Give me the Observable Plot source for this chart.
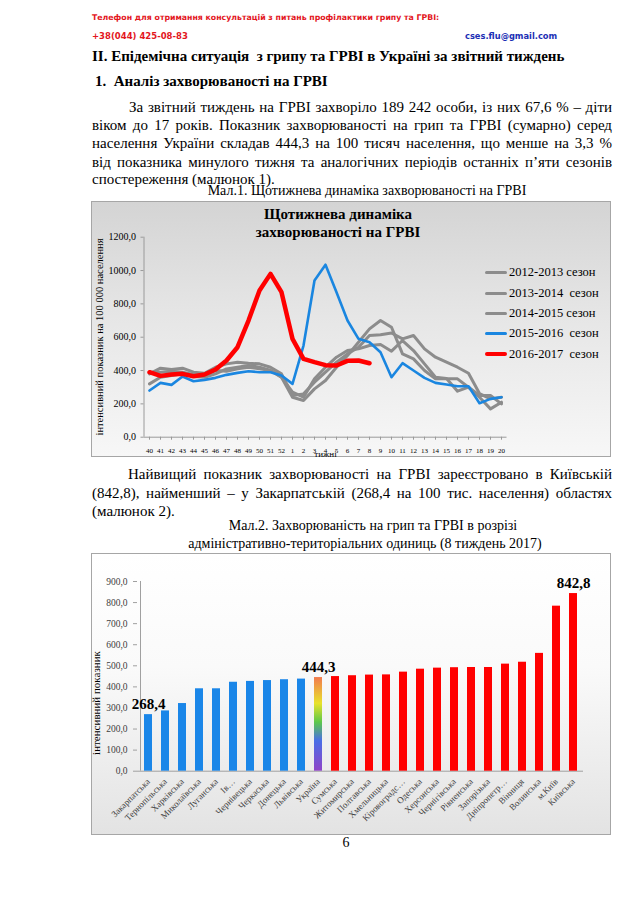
<!DOCTYPE html>
<html lang="uk">
<head>
<meta charset="utf-8">
<script src="https://cdn.jsdelivr.net/npm/d3@7"></script>
<script src="https://cdn.jsdelivr.net/npm/@observablehq/plot@0.6"></script>
<style>
html,body{margin:0;padding:0;background:#fff;}
#page{position:relative;width:638px;height:903px;overflow:hidden;font-family:"Liberation Serif","Tinos","Times New Roman","DejaVu Serif",serif;color:#000;}
.a{position:absolute;white-space:pre;}
.hdr{font-family:"DejaVu Sans","Liberation Sans",Arial,sans-serif;font-weight:bold;font-size:7.8px;line-height:10px;height:10px;}
.ln{position:absolute;font-size:15px;line-height:18px;height:18px;text-align:justify;text-align-last:justify;white-space:normal;}
.box{position:absolute;box-sizing:border-box;}
.leg{position:absolute;left:485px;width:22px;}
.legt{position:absolute;left:509px;font-size:12.5px;white-space:pre;line-height:14px;height:14px;}
.ctr{transform:translateX(-50%);}
</style>
</head>
<body>
<div id="page">
  <div class="a hdr" style="left:92px;top:13px;color:#e3161d;">Телефон для отримання консультацій з питань профілактики грипу та ГРВІ:</div>
  <div class="a hdr" style="left:92px;top:31px;color:#e3161d;font-size:8.5px;">+38(044) 425-08-83</div>
  <div class="a hdr" style="left:465px;top:31px;color:#1b2fb5;font-size:8.3px;">cses.flu@gmail.com</div>
  <div class="a" style="left:92px;top:47px;font-size:15px;font-weight:bold;line-height:18px;">II. Епідемічна ситуація  з грипу та ГРВІ в Україні за звітний тиждень</div>
  <div class="a" style="left:95px;top:72px;font-size:15px;font-weight:bold;line-height:18px;">1.  Аналіз захворюваності на ГРВІ</div>

  <div class="ln" style="left:129px;width:483px;top:97.5px;">За звітний тиждень на ГРВІ захворіло 189 242 особи, із них 67,6 % – діти</div>
  <div class="ln" style="left:92px;width:520px;top:116px;">віком до 17 років. Показник захворюваності на грип та ГРВІ (сумарно) серед</div>
  <div class="ln" style="left:92px;width:520px;top:134.3px;">населення України складав 444,3 на 100 тисяч населення, що менше на 3,3 %</div>
  <div class="ln" style="left:92px;width:520px;top:152.5px;">від показника минулого тижня та аналогічних періодів останніх п’яти сезонів</div>
  <div class="ln" style="left:92px;width:520px;top:170px;text-align:left;text-align-last:left;">спостереження (малюнок 1).</div>
  <div class="a ctr" style="left:367px;top:183px;font-size:14px;line-height:16px;">Мал.1. Щотижнева динаміка захворюваності на ГРВІ</div>

  <div class="box" id="box1" style="left:91px;top:201px;width:520px;height:256px;border:1px solid #a6a6a6;background:linear-gradient(#d4d4d4,#e6e6e6 45%,#f7f7f7);"></div>
  <div id="c1" style="position:absolute;left:91px;top:201px;width:520px;height:256px;"></div>
  <div class="a ctr" style="left:338px;top:205px;font-size:15px;font-weight:bold;line-height:18px;">Щотижнева динаміка</div>
  <div class="a ctr" style="left:338px;top:223px;font-size:15px;font-weight:bold;line-height:18px;">захворюваності на ГРВІ</div>
  <div class="a" style="left:100px;top:337px;font-size:10.5px;line-height:12px;transform:translate(-50%,-50%) rotate(-90deg);">інтенсивний показник на 100 000 населення</div>
  <div id="legend1"></div>

  <div class="ln" style="left:128px;width:484px;top:465px;">Найвищий показник захворюваності на ГРВІ зареєстровано в Київській</div>
  <div class="ln" style="left:92px;width:520px;top:483.5px;">(842,8), найменший – у Закарпатській (268,4 на 100 тис. населення) областях</div>
  <div class="ln" style="left:92px;width:520px;top:502px;text-align:left;text-align-last:left;">(малюнок 2).</div>
  <div class="a ctr" style="left:373px;top:517px;font-size:14px;line-height:17px;">Мал.2. Захворюваність на грип та ГРВІ в розрізі</div>
  <div class="a ctr" style="left:365px;top:535px;font-size:14px;line-height:17px;">адміністративно-територіальних одиниць (8 тиждень 2017)</div>

  <div class="box" style="left:91px;top:553px;width:520px;height:282px;border:1px solid #a6a6a6;background:linear-gradient(#ffffff,#fafafa 40%,#e3e3e3);"></div>
  <div id="c2" style="position:absolute;left:91px;top:553px;width:520px;height:282px;"></div>
  <div class="a" style="left:96px;top:703px;font-size:11px;line-height:12px;transform:translate(-50%,-50%) rotate(-90deg);">інтенсивний показник</div>

  <div class="a ctr" style="left:346px;top:835px;font-size:14px;line-height:16px;">6</div>
</div>
<script>
// ---------- Chart 1 data: weekly ARI incidence per 100 000 ----------
const weeks = ["40","41","42","43","44","45","46","47","48","49","50","51","52",
  "1","2","3","4","5","6","7","8","9","10","11","12","13","14","15","16","17","18","19","20"];
const seasons = ["2012-2013 сезон","2013-2014  сезон","2014-2015 сезон","2015-2016  сезон","2016-2017  сезон"];
const s2012 = [320,360,370,380,364,360,380,410,420,430,420,400,360,
  240,220,290,340,420,490,570,650,700,660,500,470,400,350,350,350,300,240,170,210];
const s2013 = [380,414,406,414,390,384,420,440,450,444,440,420,380,
  250,260,330,390,450,500,540,610,615,625,590,610,530,480,450,420,384,262,230,240];
const s2014 = [390,390,396,390,376,370,400,396,410,420,410,400,360,
  270,240,350,420,480,520,530,550,556,516,580,520,440,360,352,276,300,250,250,200];
const s2015 = [280,326,314,364,336,344,356,374,386,396,390,390,370,
  320,550,940,1035,870,700,590,570,510,360,444,400,356,326,316,306,306,204,230,240];
const s2016 = [390,368,376,380,366,376,406,460,540,700,880,980,870,
  590,470,450,432,430,458,460,444];
const yTicks1 = [0,200,400,600,800,1000,1200];

// ---------- Chart 2 data: incidence by region, week 8 2017 ----------
const regions = ["Закарпатська","Тернопільська","Харківська","Миколаївська","Луганська","Ів…",
  "Чернівецька","Черкаська","Донецька","Львівська","Україна","Сумська","Житомирська","Полтавська",
  "Хмельницька","Кіровоградс…","Одеська","Херсонська","Чернігівська","Рівненська","Запорізька",
  "Дніпропетр…","Вінниця","Волинська","м.Київ","Київська"];
const rates = [268.4,286,321,391,391,422,426,430,434,437,444.3,449,453,456,457,470,484,489,491,492,492,508,517,559,783,842.8];
const labelled = ["Закарпатська","Україна","Київська"];
const national = "Україна";
const yTicks2 = [0,100,200,300,400,500,600,700,800,900];

const SERIF = "'Liberation Serif', Tinos, 'Times New Roman', 'DejaVu Serif', serif";
const fmt1 = d => d.toFixed(1).replace(".", ",");
const seasonValues = [s2012, s2013, s2014, s2015, s2016];
const lineRows = seasonValues.flatMap((vals, k) => vals.map((v, i) => ({season: seasons[k], k, i, value: v})));
const seasonColors = ["#8c8c8c","#8c8c8c","#8c8c8c","#1a86e0","#ff0000"];
const seasonWidths = [3,3,3,2.6,4.5];

const chart1 = Plot.plot({
  width: 520, height: 256,
  marginLeft: 52.5, marginRight: 104.5, marginTop: 35.7, marginBottom: 20.3,
  style: {background: "transparent", fontFamily: SERIF, color: "#000", overflow: "visible"},
  x: {domain: [-0.5, weeks.length - 0.5], label: null},
  y: {domain: [0, 1200], label: null},
  marks: [
    Plot.ruleX([-0.5], {stroke: "#9a9a9a"}),
    Plot.ruleY([0], {stroke: "#9a9a9a"}),
    Plot.axisY({ticks: yTicks1, tickFormat: fmt1, tickSize: 3, tickPadding: 5, fontSize: 10, stroke: "#9a9a9a", label: null}),
    Plot.axisX({ticks: d3.range(weeks.length), tickFormat: i => weeks[i], tickSize: 3, tickPadding: 8, fontSize: 7, stroke: "#9a9a9a", label: null}),
    Plot.text(["тижні"], {text: d => d, frameAnchor: "bottom", dy: 20, fontSize: 9}),
    ...[0,1,2,3,4].map(k => Plot.line(lineRows.filter(d => d.k === k), {
      x: "i", y: "value", stroke: seasonColors[k], strokeWidth: seasonWidths[k], strokeLinejoin: "round", strokeLinecap: "round"}))
  ]
});
document.getElementById("c1").appendChild(chart1);

// legend for chart 1
const legTops = [272.5, 293, 313, 333.5, 354];
const leg = document.getElementById("legend1");
seasons.forEach((s, k) => {
  const l = document.createElement("div");
  l.className = "leg";
  l.style.top = (legTops[k] - seasonWidths[k] / 2) + "px";
  l.style.height = seasonWidths[k] + "px";
  l.style.background = seasonColors[k];
  l.style.borderRadius = "2px";
  leg.appendChild(l);
  const t = document.createElement("div");
  t.className = "legt";
  t.style.top = (legTops[k] - 7.5) + "px";
  t.textContent = s;
  leg.appendChild(t);
});

// ---------- Chart 2 ----------
const barRows = regions.map((r, i) => ({region: r, value: rates[i]}));
const natValue = rates[regions.indexOf(national)];
const chart2 = Plot.plot({
  width: 520, height: 282,
  marginLeft: 46, marginRight: 28, marginTop: 28, marginBottom: 64.3,
  style: {background: "transparent", fontFamily: SERIF, color: "#000", overflow: "visible"},
  x: {domain: regions, paddingInner: 0.535, paddingOuter: 0.23, label: null},
  y: {domain: [0, 900], label: null},
  color: {type: "identity"},
  marks: [
    Plot.ruleX([regions[0]], {dx: -8, stroke: "#a0a0a0"}),
    Plot.ruleY([0], {stroke: "#a0a0a0"}),
    Plot.axisY({ticks: yTicks2, tickFormat: fmt1, tickSize: 4, tickPadding: 6, fontSize: 9.5, stroke: "#a0a0a0", fill: "#404040", label: null}),
    Plot.axisX({tickSize: 0, tickPadding: 9, tickRotate: -45, fontSize: 9, fill: "#404040", label: null}),
    Plot.barY(barRows, {x: "region", y: "value",
      fill: d => d.region === national ? "url(#uaGrad)" : (d.value < natValue ? "#1a86e8" : "#ff0000")}),
    Plot.text(barRows.filter(d => labelled.includes(d.region)), {x: "region", y: "value", text: d => fmt1(d.value),
      dy: -10, fontSize: 15, fontWeight: "bold"})
  ]
});
(function addGradient(svg) {
  const ns = "http://www.w3.org/2000/svg";
  const defs = document.createElementNS(ns, "defs");
  const lg = document.createElementNS(ns, "linearGradient");
  lg.setAttribute("id", "uaGrad");
  lg.setAttribute("x1", "0"); lg.setAttribute("y1", "0"); lg.setAttribute("x2", "0"); lg.setAttribute("y2", "1");
  [["0", "#f27a4e"], ["0.28", "#e8e22a"], ["0.48", "#5cc84a"], ["0.68", "#4a6ee6"], ["1", "#8f44c8"]].forEach(([o, c]) => {
    const st = document.createElementNS(ns, "stop");
    st.setAttribute("offset", o); st.setAttribute("stop-color", c);
    lg.appendChild(st);
  });
  defs.appendChild(lg);
  svg.insertBefore(defs, svg.firstChild);
})(chart2);
document.getElementById("c2").appendChild(chart2);
</script>
</body>
</html>
